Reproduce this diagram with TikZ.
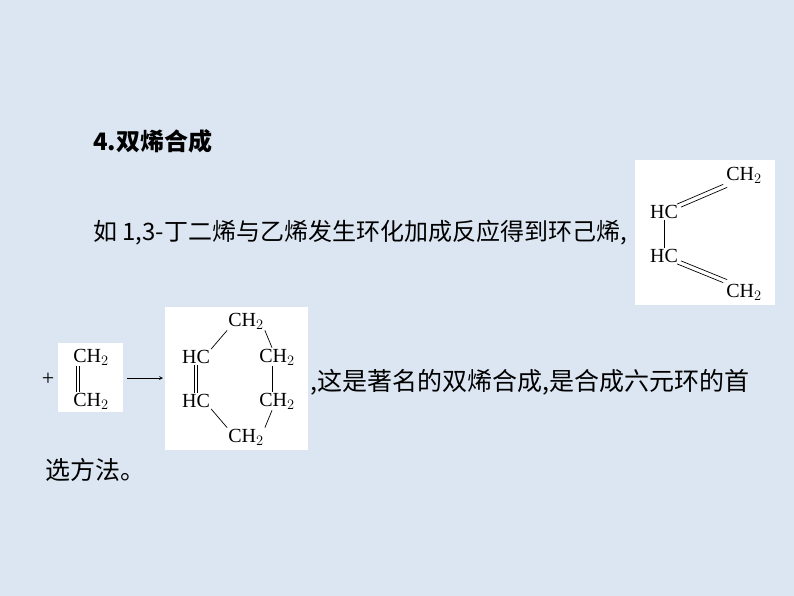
\documentclass[tikz,border=0pt]{standalone}
\usepackage{fontspec}
\setmainfont{Liberation Serif}
\newfontfamily\cjk{Noto Sans CJK SC}
\begin{document}
\begin{tikzpicture}[x=1pt,y=-1pt,
  zh/.style={font=\cjk\fontsize{25}{27}\selectfont,inner sep=0pt,anchor=west},
  ch/.style={font=\fontsize{20}{22}\selectfont,inner sep=1pt},
  wbox/.style={fill=white,draw=none},
  bond/.style={line width=0.7pt}]
\fill[fill={rgb,255:red,220;green,230;blue,242}] (0,0) rectangle (794,596);
\useasboundingbox (0,0) rectangle (794,596);
\node[zh,font=\cjk\bfseries\fontsize{24}{26}\selectfont] (t1) at (93,141) {4.双烯合成};
\node[zh,font=\cjk\fontsize{24}{26}\selectfont] (t2) at (93,233) {如 1,3-丁二烯与乙烯发生环化加成反应得到环己烯,};
% butadiene box
\fill[wbox] (635,160) rectangle (775,305);
\node[ch] (b1) at (744,175) {CH$_2$};
\node[ch] (b2) at (664,212) {HC};
\node[ch] (b3) at (664,256) {HC};
\node[ch] (b4) at (744,292) {CH$_2$};
\draw[bond] ([shift={(-2,0)}]b2.north east) -- ([shift={(-2,0)}]b1.south west);
\draw[bond] ([shift={(2,3)}]b2.north east) -- ([shift={(2,3)}]b1.south west);
\draw[bond] (b2) -- (b3);
\draw[bond] ([shift={(-2,0)}]b3.south east) -- ([shift={(-2,0)}]b4.north west);
\draw[bond] ([shift={(2,-3)}]b3.south east) -- ([shift={(2,-3)}]b4.north west);
% line 3
\node[font=\fontsize{22}{24}\selectfont,inner sep=0pt] (plus) at (48,379) {+};
\fill[wbox] (58,343) rectangle (123,412);
\node[ch] (e1) at (91,357) {CH$_2$};
\node[ch] (e2) at (91,401) {CH$_2$};
\draw[bond] ([xshift=-14.5pt]e1.south) -- ([xshift=-14.5pt]e2.north);
\draw[bond] ([xshift=-11.5pt]e1.south) -- ([xshift=-11.5pt]e2.north);
\coordinate (a1) at (127,378);
\coordinate (a2) at (163,378);
\draw[bond,-stealth] (a1) -- (a2);
\fill[wbox] (165,307) rectangle (308,450);
\node[ch] (c1) at (246,321) {CH$_2$};
\node[ch] (c2) at (196,357) {HC};
\node[ch] (c3) at (277,357) {CH$_2$};
\node[ch] (c4) at (196,401) {HC};
\node[ch] (c5) at (277,401) {CH$_2$};
\node[ch] (c6) at (246,437) {CH$_2$};
\draw[bond] (c2.north east) -- (c1.south west);
\draw[bond] (c1.south east) -- ([xshift=-5pt]c3.north);
\draw[bond] ([xshift=-1.5pt]c2.south) -- ([xshift=-1.5pt]c4.north);
\draw[bond] ([xshift=1.5pt]c2.south) -- ([xshift=1.5pt]c4.north);
\draw[bond] ([xshift=-5pt]c3.south) -- ([xshift=-5pt]c5.north);
\draw[bond] (c4.south east) -- (c6.north west);
\draw[bond] ([xshift=-5pt]c5.south) -- (c6.north east);
\node[zh] (t3) at (310,382) {,这是著名的双烯合成,是合成六元环的首};
\node[zh] (t4) at (45,470) {选方法。};
\end{tikzpicture}
\end{document}
